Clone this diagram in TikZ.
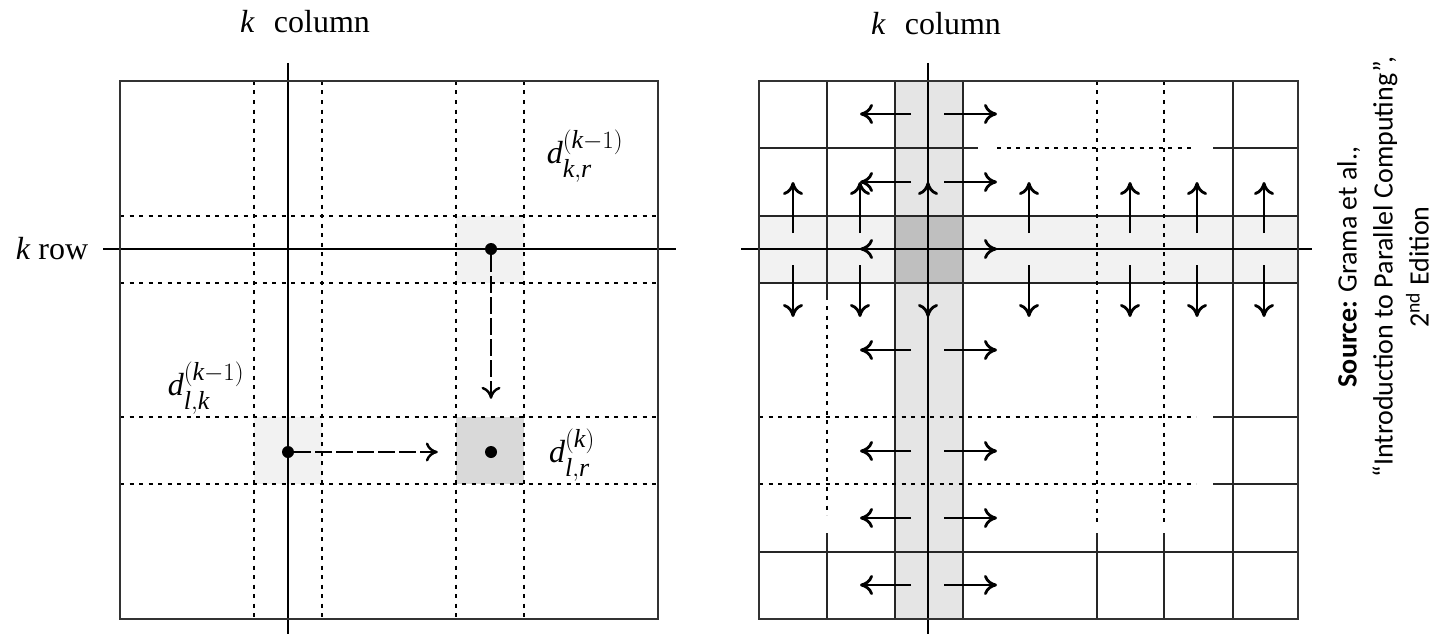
\documentclass[tikz,border=0pt]{standalone}
\usepackage{amsmath}
\usepackage{fontspec}
\setmainfont{Liberation Serif}
\newfontfamily\srcfont{Carlito}
\usetikzlibrary{arrows.meta}
\DeclareMathSizes{32}{32}{26}{20}
\newcommand{\itl}[1]{\textit{#1}}

\tikzset{
  frame/.style={line width=2.8pt, draw=black!80},
  cellline/.style={line width=2.3pt, draw=black!85},
  dotline/.style={line width=2.2pt, dash pattern=on 4pt off 5.5pt},
  kline/.style={line width=1.8pt},
  lbl/.style={font=\fontsize{32}{38}\selectfont, inner sep=0pt},
  dot/.style={circle, fill=black, inner sep=0pt, minimum size=12pt},
  fwd/.style={line width=2pt, dash pattern=on 17pt off 4pt, shorten >=47pt,
    -{Computer Modern Rightarrow[length=12pt,width=19pt,line width=2.4pt]}},
  bcast/.style={line width=2.5pt, -{Computer Modern Rightarrow[length=13pt,width=20pt,line width=2.8pt]}},
  src/.style={font=\srcfont\fontsize{28}{36}\selectfont, align=center, rotate=90}
}

\begin{document}
\begin{tikzpicture}[x=1pt, y=-1pt]
        \useasboundingbox (0,0) rectangle (1441,634);

        % Left grid: shaded cells
        \fill[gray!10] (456,216) rectangle (524,283);
        \fill[gray!10] (254,417) rectangle (322,484);
        \fill[gray!30] (456,417) rectangle (524,484);

        % Left grid: dashed block borders
        \foreach \x in {254,322,456,524}
          \draw[dotline] (\x,81) -- (\x,619);
        \foreach \y in {216,283,417,484}
          \draw[dotline] (120,\y) -- (658,\y);

        % Left grid: k row, k column, frame
        \draw[kline] (288,63) -- (288,634);
        \draw[kline] (103,249) -- (676,249);
        \draw[frame] (120,81) rectangle (658,619);

        % Left grid: labels
        \node[lbl] (kcolL) at (305,22) {\itl{k}\hspace{0.6em}column};
        \node[lbl] (krowL) at (52,249) {\itl{k} row};
        \node[lbl] (dkrlbl) at (585,156) {$\itl{d}^{(\itl{k}-1)}_{\itl{k},\itl{r}}$};
        \node[lbl] (dlklbl) at (206,388) {$\itl{d}^{(\itl{k}-1)}_{\itl{l},\itl{k}}$};
        \node[lbl] (dlrlbl) at (572,455) {$\itl{d}^{(\itl{k})}_{\itl{l},\itl{r}}$};

        % Left grid: elements and updates
        \node[dot] (dkr) at (491,249) {};
        \node[dot] (dlk) at (288,452) {};
        \node[dot] (dlr) at (491,452) {};
        \draw[fwd] (dkr) -- (dlr);
        \draw[fwd] (dlk) -- (dlr);

        % Right grid: shaded row and column
        \fill[gray!10] (759,216) rectangle (1298,283);
        \fill[gray!20] (895,81) rectangle (963,619);
        \fill[gray!50] (895,216) rectangle (963,283);

        % Right grid: solid cell borders
        \foreach \x in {895,963,1233}
          \draw[cellline] (\x,81) -- (\x,619);
        \foreach \y in {216,283,552}
          \draw[cellline] (759,\y) -- (1298,\y);

        % Right grid: partly dotted borders
        \draw[cellline] (827,81) -- (827,300);
        \draw[dotline] (827,306) -- (827,515);
        \draw[cellline] (827,533) -- (827,619);
        \foreach \x in {1097,1164} {
          \draw[dotline] (\x,81) -- (\x,522);
          \draw[cellline] (\x,533) -- (\x,619);
        }
        \draw[cellline] (759,148) -- (978,148);
        \draw[dotline] (997,148) -- (1196,148);
        \draw[cellline] (1213,148) -- (1298,148);
        \foreach \y in {417,484} {
          \draw[dotline] (759,\y) -- (1196,\y);
          \draw[cellline] (1213,\y) -- (1298,\y);
        }

        % Right grid: k row, k column, frame
        \draw[kline] (928,63) -- (928,634);
        \draw[kline] (741,249) -- (1312,249);
        \draw[frame] (759,81) rectangle (1298,619);
        \node[lbl] (kcolR) at (936,24) {\itl{k}\hspace{0.6em}column};

        % Right grid: broadcast along rows
        \foreach \y in {114,182,249,350,451,518,585} {
          \draw[bcast] (911,\y) -- (860,\y);
          \draw[bcast] (944,\y) -- (997,\y);
        }
        % Right grid: broadcast along columns
        \foreach \x in {793,860,928,1029,1130,1197,1264} {
          \draw[bcast] (\x,233) -- (\x,182);
          \draw[bcast] (\x,265) -- (\x,317);
        }

        % Source
        \node[src] (source) at (1383,267) {\textbf{Source:} Grama et al.,\\
          “Introduction to Parallel Computing”,\\ 2\textsuperscript{nd} Edition};
\end{tikzpicture}
\end{document}
